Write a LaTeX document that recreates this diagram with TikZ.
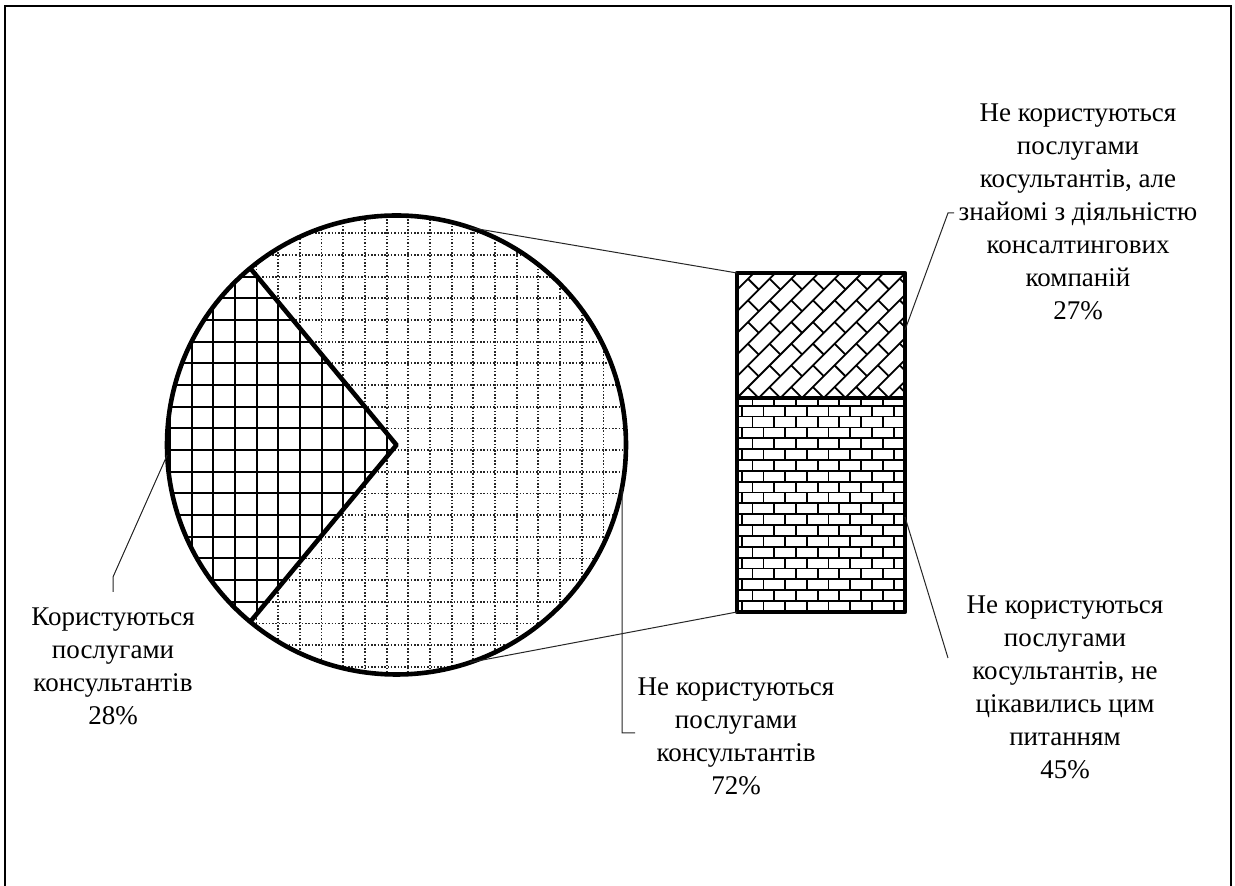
\documentclass[tikz,border=0pt]{standalone}
\usepackage{fontspec}
\setmainfont{Liberation Serif}
\usetikzlibrary{calc}
\begin{document}
\begin{tikzpicture}[x=1pt,y=1pt,
  lbl/.style={align=center, font=\fontsize{27}{33}\selectfont, inner sep=0pt},
  leader/.style={line width=1pt, black!85},
  outl/.style={line width=4.6pt, line join=round},
  dotg/.style={line width=1.7pt, black!85, dash pattern=on 1.5pt off 1.8pt},
  solg/.style={line width=2pt, black},
  brick/.style={line width=1.8pt, black}]
\useasboundingbox (0,0) rectangle (1235,886);
\fill[white] (0,0) rectangle (1235,886);
\draw[line width=2.2pt] (5,-5) -- (5,880) -- (1231,880) -- (1231,-5);

% pie
\coordinate (C) at (396.5,441);
\coordinate (P1) at ($(C)+(129.6:229.5)$);
\coordinate (P2) at ($(C)+(230.4:229.5)$);
\begin{scope}
  \clip (C) circle (229.5);
  \foreach \i in {-6,...,16} \draw[dotg] ({278.3+\i*21.67},200) -- ++(0,490);
  \foreach \i in {-21,...,3} \draw[dotg] (150,{631+\i*21.67}) -- ++(490,0);
\end{scope}
\fill[white] (C) -- (P1) arc[start angle=129.6,end angle=230.4,radius=229.5] -- cycle;
\begin{scope}
  \clip (C) -- (P1) arc[start angle=129.6,end angle=230.4,radius=229.5] -- cycle;
  \foreach \i in {-6,...,6} \draw[solg] ({278.3+\i*21.67},200) -- ++(0,490);
  \foreach \i in {-21,...,3} \draw[solg] (150,{631+\i*21.67}) -- ++(260,0);
\end{scope}
\draw[outl] (C) circle (229.5);
\draw[outl] (P1) -- (C) -- (P2);

% bar
\coordinate (BTL) at (737,613);
\coordinate (BBL) at (737,274);
\begin{scope}
  \clip (737,488) rectangle (905,613);
  \begin{scope}[shift={(737,488)}, rotate=45]
    \foreach \j in {-9,...,7} {
      \draw[brick] (-40,{\j*15.3}) -- (260,{\j*15.3});
      \pgfmathsetmacro\off{mod(\j+100,2)*15.35}
      \foreach \k in {-2,...,9} \draw[brick] ({\k*30.7+\off},{\j*15.3}) -- ++(0,15.3);
    }
  \end{scope}
\end{scope}
\begin{scope}
  \clip (737,274) rectangle (905,488);
  \foreach \k in {-13,...,8} {
    \pgfmathsetmacro\yy{404.3+\k*10.85}
    \draw[brick] (730,\yy) -- (912,\yy);
    \pgfmathsetmacro\off{mod(\k+100,2)*10.85}
    \foreach \m in {-2,...,8} \draw[brick] ({741.7+\m*21.7+\off},\yy) -- ++(0,10.85);
  }
\end{scope}
\draw[outl] (737,274) rectangle (905,613);
\draw[outl] (737,488) -- (905,488);

% connectors pie -> bar
\coordinate (T1) at ($(C)+(71.3:229.5)$);
\coordinate (T2) at ($(C)+(-71.3:229.5)$);
\draw[leader] (T1) -- (BTL);
\draw[leader] (T2) -- (BBL);

% labels
\node[lbl] (L28) at (113,220) {Користуються\\послугами\\консультантів\\28\%};
\node[lbl] (L72) at (736,149.5) {Не користуються\\послугами\\консультантів\\72\%};
\node[lbl] (L27) at (1078,674.5) {Не користуються\\послугами\\косультантів, але\\знайомі з діяльністю\\консалтингових\\компаній\\27\%};
\node[lbl] (L45) at (1065,199) {Не користуються\\послугами\\косультантів, не\\цікавились цим\\питанням\\45\%};

% label leaders
\coordinate (A1) at ($(C)+(182.5:229.5)$);
\coordinate (A2) at (113,309);
\coordinate (A3) at (113,294);
\draw[leader] (A1) -- (A2) -- (A3);
\coordinate (M1) at ($(C)+(-10.7:229.5)$);
\coordinate (M2) at (622,153);
\coordinate (M3) at (635,153);
\draw[leader] (M1) -- (M2) -- (M3);
\coordinate (R1) at (905,556);
\coordinate (R2) at (948,673);
\coordinate (R3) at (954,673);
\draw[leader] (R1) -- (R2) -- (R3);
\coordinate (S1) at (905,369);
\coordinate (S2) at (948,228);
\draw[leader] (S1) -- (S2);
\end{tikzpicture}
\end{document}
